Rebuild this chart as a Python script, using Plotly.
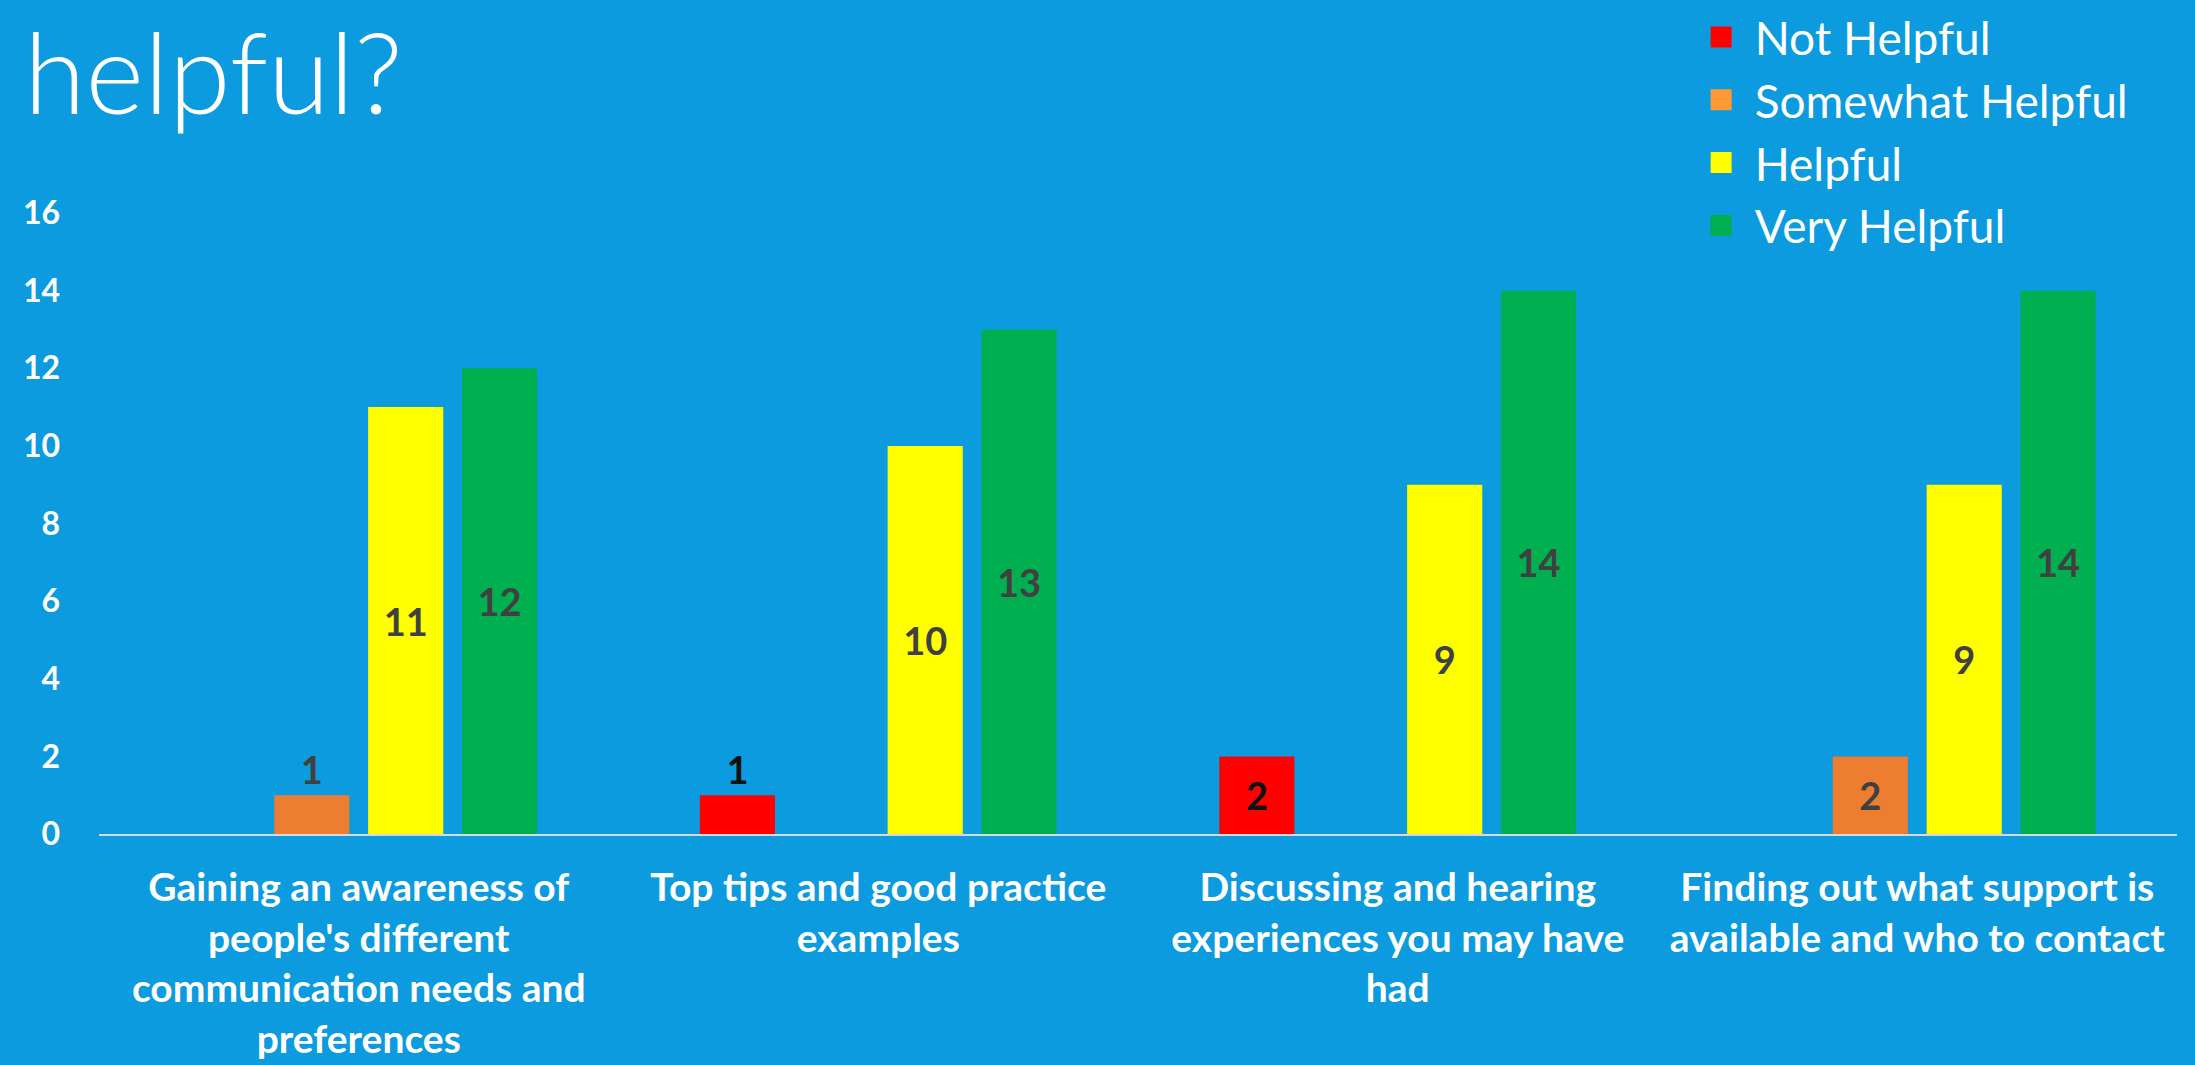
import plotly.graph_objects as go

categories = [
    "Gaining an awareness of<br>people's different<br>communication needs and<br>preferences",
    "Top tips and good practice<br>examples",
    "Discussing and hearing<br>experiences you may have<br>had",
    "Finding out what support is<br>available and who to contact",
]
series_names = ["Not Helpful", "Somewhat Helpful", "Helpful", "Very Helpful"]
not_helpful = [0, 1, 2, 0]
somewhat_helpful = [1, 0, 0, 2]
helpful = [11, 10, 9, 9]
very_helpful = [12, 13, 14, 14]
y_ticks = [0, 2, 4, 6, 8, 10, 12, 14, 16]

bar_colors = ["#FF0000", "#ED7D31", "#FFFF00", "#00B050"]
legend_colors = ["#FF0000", "#FF9933", "#FFFF00", "#00B050"]
label_colors = ["#111111", "#404040", "#404040", "#404040"]
BG = "#0C9BDE"

fig = go.Figure()

all_values = [not_helpful, somewhat_helpful, helpful, very_helpful]
for name, vals, col, lcol in zip(series_names, all_values, bar_colors, label_colors):
    texts = [str(v) if v else "" for v in vals]
    positions = ["outside" if v == 1 else "inside" for v in vals]
    fig.add_trace(go.Bar(
        x=categories, y=vals, name=name, marker_color=col, marker_line_width=0,
        text=texts, textposition=positions, insidetextanchor="middle",
        textangle=0, constraintext="none", cliponaxis=False,
        textfont=dict(family="Lato", size=38, color=lcol, weight="bold"),
        showlegend=False,
    ))

# legend squares (bars' own legend symbol is too small)
for name, col in zip(series_names, legend_colors):
    fig.add_trace(go.Scatter(
        x=[None], y=[None], mode="markers", name=name,
        marker=dict(symbol="square", size=24, color=col, line=dict(color=col, width=5)),
    ))

fig.add_annotation(
    text="helpful?", xref="paper", yref="paper", x=-0.037, y=1.342,
    xanchor="left", yanchor="top", showarrow=False,
    font=dict(family="Lato", size=112, color="white", weight=300),
)

fig.update_layout(
    width=2195, height=1065,
    paper_bgcolor=BG, plot_bgcolor=BG,
    margin=dict(l=99, r=18, t=213, b=231, autoexpand=False),
    barmode="group", bargap=0.277, bargroupgap=0.2,
    font=dict(family="Lato", color="white"),
    legend=dict(
        x=0.7645, y=1.342, xanchor="left", yanchor="top",
        font=dict(family="Lato", size=46, color="white"),
        bgcolor="rgba(0,0,0,0)", itemsizing="trace", itemwidth=57,
    ),
)
fig.update_xaxes(
    showgrid=False, showline=True, linecolor="#D9D9D9", linewidth=2,
    ticks="", ticklabelstandoff=18,
    tickfont=dict(family="Lato", size=39, color="white", weight="bold"),
)
fig.update_yaxes(
    range=[0, 16], tickvals=y_ticks, showgrid=False, zeroline=False,
    showline=False, ticks="", ticklabelstandoff=38,
    tickfont=dict(family="Lato", size=32, color="white", weight="bold"),
)

fig.write_html("out.html", config={"displayModeBar": False},
               post_script="document.body.style.margin='0';")
